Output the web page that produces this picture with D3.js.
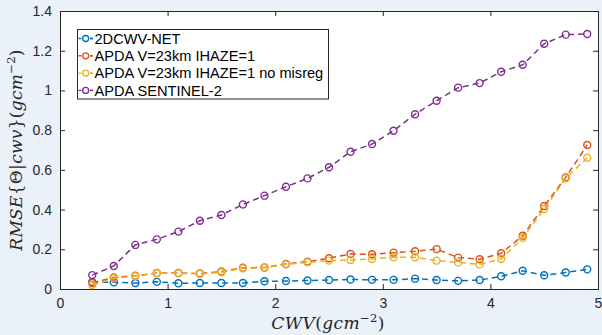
<!DOCTYPE html>
<html>
<head>
<meta charset="utf-8">
<script src="https://cdn.jsdelivr.net/npm/d3@7"></script>
<style>
  html, body { margin: 0; padding: 0; background: #ebf1f9; }
  svg { display: block; }
</style>
</head>
<body>
<svg id="chart" width="602" height="335"></svg>
<script>
// Water-vapour retrieval error versus CWV
const cwv = [0.3, 0.5, 0.7, 0.9, 1.1, 1.3, 1.5, 1.7, 1.9, 2.1, 2.3, 2.5,
             2.7, 2.9, 3.1, 3.3, 3.5, 3.7, 3.9, 4.1, 4.3, 4.5, 4.7, 4.9];

const net2dcwv = [0.036, 0.034, 0.030, 0.036, 0.029, 0.030, 0.030, 0.030, 0.039, 0.040, 0.043, 0.045,
                  0.048, 0.046, 0.046, 0.052, 0.045, 0.041, 0.045, 0.064, 0.092, 0.069, 0.083, 0.099];

const apdaHaze = [0.030, 0.058, 0.067, 0.081, 0.081, 0.078, 0.088, 0.107, 0.108, 0.126, 0.138, 0.155,
                  0.176, 0.175, 0.183, 0.190, 0.201, 0.158, 0.150, 0.180, 0.268, 0.418, 0.562, 0.725];

const apdaNoMisreg = [0.020, 0.054, 0.065, 0.079, 0.079, 0.076, 0.084, 0.104, 0.107, 0.124, 0.134, 0.143,
                      0.146, 0.151, 0.160, 0.160, 0.143, 0.134, 0.124, 0.151, 0.258, 0.403, 0.557, 0.661];

const apdaSentinel = [0.070, 0.116, 0.222, 0.250, 0.289, 0.344, 0.373, 0.426, 0.470, 0.515, 0.557, 0.613,
                      0.691, 0.730, 0.797, 0.880, 0.948, 1.014, 1.037, 1.094, 1.129, 1.235, 1.281, 1.284];

const seriesNames = ["2DCWV-NET", "APDA V=23km IHAZE=1", "APDA V=23km IHAZE=1 no misreg", "APDA SENTINEL-2"];
const seriesColors = ["#0072bd", "#d95319", "#edb120", "#7e2f8e"];
const seriesValues = [net2dcwv, apdaHaze, apdaNoMisreg, apdaSentinel];

const xTicks = [0, 1, 2, 3, 4, 5];
const yTicks = [0, 0.2, 0.4, 0.6, 0.8, 1, 1.2, 1.4];

const svg = d3.select("#chart");
const axisColor = "#262626";
const tickFont = "Liberation Sans, Arial, Helvetica, sans-serif";
const margin = { left: 60, right: 4, top: 11, bottom: 46 };
const W = 602, H = 335;
const plotW = W - margin.left - margin.right;
const plotH = H - margin.top - margin.bottom;

const x = d3.scaleLinear().domain([0, 5]).range([margin.left, margin.left + plotW]);
const y = d3.scaleLinear().domain([0, 1.4]).range([margin.top + plotH, margin.top]);

// white plotting area
svg.append("rect")
  .attr("x", x(0)).attr("y", y(1.4))
  .attr("width", x(5) - x(0)).attr("height", y(0) - y(1.4))
  .attr("fill", "#ffffff");

// axes with inward ticks on all four sides
const tickLen = 5;
const fmtY = d => d3.format("~g")(d);

const gBottom = svg.append("g").attr("transform", `translate(0,${y(0)})`)
  .call(d3.axisBottom(x).tickValues(xTicks).tickSize(-tickLen).tickPadding(9).tickFormat(d3.format("d")));
const gTop = svg.append("g").attr("transform", `translate(0,${y(1.4)})`)
  .call(d3.axisTop(x).tickValues(xTicks).tickSize(-tickLen).tickFormat(""));
const gLeft = svg.append("g").attr("transform", `translate(${x(0)},0)`)
  .call(d3.axisLeft(y).tickValues(yTicks).tickSize(-tickLen).tickPadding(8).tickFormat(fmtY));
const gRight = svg.append("g").attr("transform", `translate(${x(5)},0)`)
  .call(d3.axisRight(y).tickValues(yTicks).tickSize(-tickLen).tickFormat(""));

[gBottom, gTop, gLeft, gRight].forEach(g => {
  g.select(".domain").attr("stroke", axisColor).attr("stroke-width", 1);
  g.selectAll(".tick line").attr("stroke", axisColor).attr("stroke-width", 1);
  g.selectAll(".tick text")
    .attr("fill", axisColor)
    .style("font-family", tickFont)
    .style("font-size", "14px");
});

// data series: dashed lines with open circle markers
const line = d3.line().x((d, i) => x(cwv[i])).y(d => y(d));
const dash = "6,4";

seriesValues.forEach((vals, s) => {
  const g = svg.append("g");
  g.append("path")
    .attr("d", line(vals))
    .attr("fill", "none")
    .attr("stroke", seriesColors[s])
    .attr("stroke-width", 1.5)
    .attr("stroke-dasharray", dash);
  g.selectAll("circle").data(vals).join("circle")
    .attr("cx", (d, i) => x(cwv[i]))
    .attr("cy", d => y(d))
    .attr("r", 3.5)
    .attr("fill", "none")
    .attr("stroke", seriesColors[s])
    .attr("stroke-width", 1.4);
});

// legend
const lg = svg.append("g");
const lx = 77.5, ly = 29.5, lw = 251, lh = 69.5;
lg.append("rect")
  .attr("x", lx).attr("y", ly).attr("width", lw).attr("height", lh)
  .attr("fill", "#ffffff").attr("stroke", axisColor).attr("stroke-width", 1);
seriesNames.forEach((name, s) => {
  const cy = ly + 9 + s * 17.3;
  lg.append("line")
    .attr("x1", lx + 1).attr("x2", lx + 15.5)
    .attr("y1", cy).attr("y2", cy)
    .attr("stroke", seriesColors[s]).attr("stroke-width", 1.4)
    .attr("stroke-dasharray", "3,8.5");
  lg.append("line")
    .attr("x1", lx + 12.5).attr("x2", lx + 15.5)
    .attr("y1", cy).attr("y2", cy)
    .attr("stroke", seriesColors[s]).attr("stroke-width", 1.4);
  lg.append("circle")
    .attr("cx", lx + 8.2).attr("cy", cy).attr("r", 3)
    .attr("fill", "none").attr("stroke", seriesColors[s]).attr("stroke-width", 1.3);
  lg.append("text")
    .attr("x", lx + 17).attr("y", cy + 5.2)
    .attr("fill", "#000")
    .style("font-family", tickFont)
    .style("font-size", "14.6px")
    .text(name);
});

// axis titles in math-italic style
const mathFont = "DejaVu Serif, Liberation Serif, serif";

const xl = svg.append("text")
  .attr("x", (x(0) + x(5)) / 2 - 1).attr("y", 329)
  .attr("text-anchor", "middle")
  .attr("fill", axisColor)
  .style("font-family", mathFont)
  .style("font-size", "17px")
  .style("letter-spacing", "0.4px");
xl.append("tspan").style("font-style", "italic").text("CWV");
xl.append("tspan").text("(");
xl.append("tspan").style("font-style", "italic").text("gcm");
xl.append("tspan").attr("dy", -7).style("font-size", "11.5px").text("−2");
xl.append("tspan").attr("dy", 7).text(")");

const yl = svg.append("text")
  .attr("transform", `translate(22,${(y(0) + y(1.4)) / 2}) rotate(-90)`)
  .attr("text-anchor", "middle")
  .attr("fill", axisColor)
  .style("font-family", mathFont)
  .style("font-size", "17px")
  .style("letter-spacing", "0.3px");
yl.append("tspan").style("font-style", "italic").text("RMSE");
yl.append("tspan").text("{Θ|");
yl.append("tspan").style("font-style", "italic").text("cwv");
yl.append("tspan").text("}(");
yl.append("tspan").style("font-style", "italic").text("gcm");
yl.append("tspan").attr("dy", -7).style("font-size", "11.5px").text("−2");
yl.append("tspan").attr("dy", 7).text(")");
</script>
</body>
</html>
